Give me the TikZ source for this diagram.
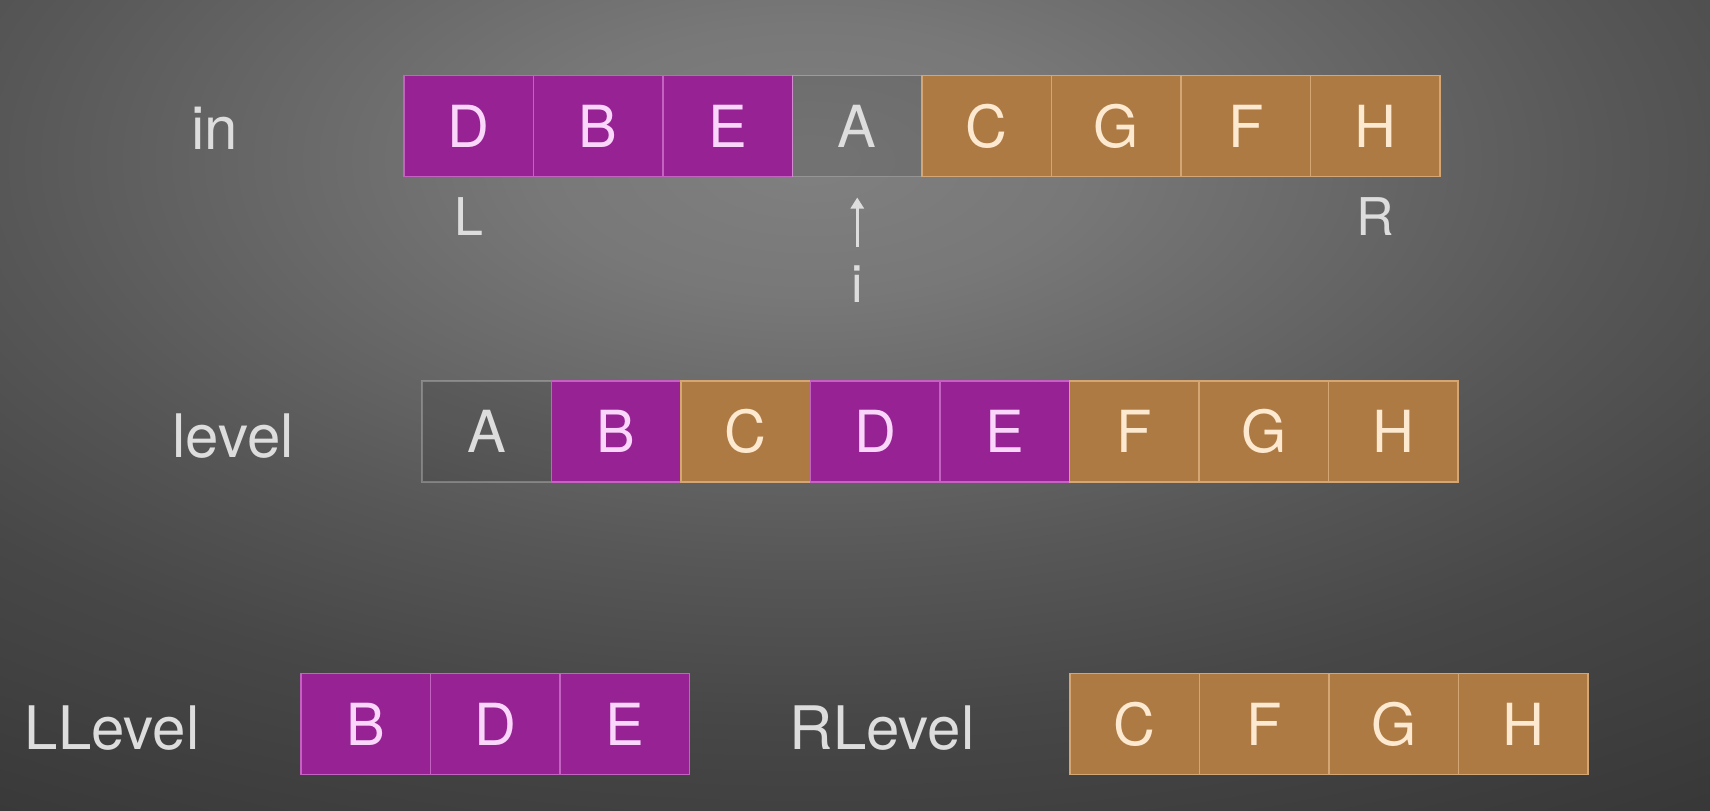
\documentclass[tikz,border=0pt]{standalone}
\usepackage{fontspec}
\setmainfont{TeX Gyre Heros}
\usetikzlibrary{positioning,arrows.meta}

\definecolor{bgin}{HTML}{808080}
\definecolor{bgmidA}{HTML}{787878}
\definecolor{bgmidB}{HTML}{575757}
\definecolor{bgmidC}{HTML}{474747}
\definecolor{bgmidD}{HTML}{383838}
\definecolor{bgout}{HTML}{343434}
\definecolor{purplefill}{RGB}{150,34,148}
\definecolor{purpleline}{RGB}{196,98,194}
\definecolor{purpletext}{RGB}{251,214,251}
\definecolor{brownfill}{RGB}{173,122,68}
\definecolor{brownline}{RGB}{212,166,115}
\definecolor{browntext}{RGB}{253,233,207}
\definecolor{labeltext}{RGB}{221,221,221}

% the path edge sits at 25bp of the shading
\pgfdeclareradialshading{stagebg}{\pgfpoint{0bp}{0bp}}{color(0bp)=(bgin); color(3.75bp)=(bgmidA); color(11.25bp)=(bgmidB); color(15.5bp)=(bgmidC); color(21.75bp)=(bgmidD); color(25bp)=(bgout); color(50bp)=(bgout)}

\tikzset{
  cell/.style={minimum width=64.75pt, minimum height=50.5pt, inner sep=0pt, outer sep=0pt,
    line width=0.75pt, font=\fontsize{29}{30}\selectfont},
  leftcell/.style={cell, fill=purplefill, draw=purpleline, text=purpletext},
  rightcell/.style={cell, fill=brownfill, draw=brownline, text=browntext},
  rootcell/.style={cell, fill=black, fill opacity=0.1, draw=white, draw opacity=0.25,
    text=labeltext, text opacity=1},
  rowname/.style={inner sep=0pt, text=labeltext, font=\fontsize{30}{32}\selectfont},
  ptr/.style={inner sep=0pt, text=labeltext, font=\fontsize{26}{28}\selectfont},
  ptrarrow/.style={-{Triangle[width=6.5pt,length=5.5pt]}, line width=1.3pt, draw=labeltext}
}

\begin{document}
\begin{tikzpicture}[x=0.5pt, y=-0.5pt]
    \useasboundingbox (0,0) rectangle (1710,810);
    \begin{scope}
      \clip (0,0) rectangle (1710,810);
      \fill[bgout] (0,0) rectangle (1710,810);
      \shade[shading=stagebg] (810,160) ellipse [x radius=1800, y radius=900];
    \end{scope}

    % inorder row
    \node[rowname] (inname) at (215,128) {in};
    \foreach \t/\s [count=\k] in {D/leftcell,B/leftcell,E/leftcell,A/rootcell,C/rightcell,G/rightcell,F/rightcell,H/rightcell}
      \node[\s] (in\k) at ({468.75+129.5*(\k-1)},126) {\t};
    \node[ptr, below=10.5pt of in1] (lptr) {L};
    \node[ptr, below=10.5pt of in8] (rptr) {R};
    \node[ptr, below=44.5pt of in4] (iptr) {i};
    \draw[ptrarrow, shorten <=9.5pt, shorten >=10.5pt] (iptr) -- (in4);

    % level order row
    \node[rowname] (levelname) at (233,436) {level};
    \foreach \t/\s [count=\k] in {A/rootcell,B/leftcell,C/rightcell,D/leftcell,E/leftcell,F/rightcell,G/rightcell,H/rightcell}
      \node[\s] (lv\k) at ({486.75+129.5*(\k-1)},431.5) {\t};

    % split rows
    \node[rowname] (llname) at (112,728) {LLevel};
    \foreach \t [count=\k] in {B,D,E}
      \node[leftcell] (ll\k) at ({365.75+129.5*(\k-1)},724) {\t};
    \node[rowname] (rlname) at (882,728) {RLevel};
    \foreach \t [count=\k] in {C,F,G,H}
      \node[rightcell] (rl\k) at ({1134.75+129.5*(\k-1)},724) {\t};
      
\end{tikzpicture}
\end{document}
